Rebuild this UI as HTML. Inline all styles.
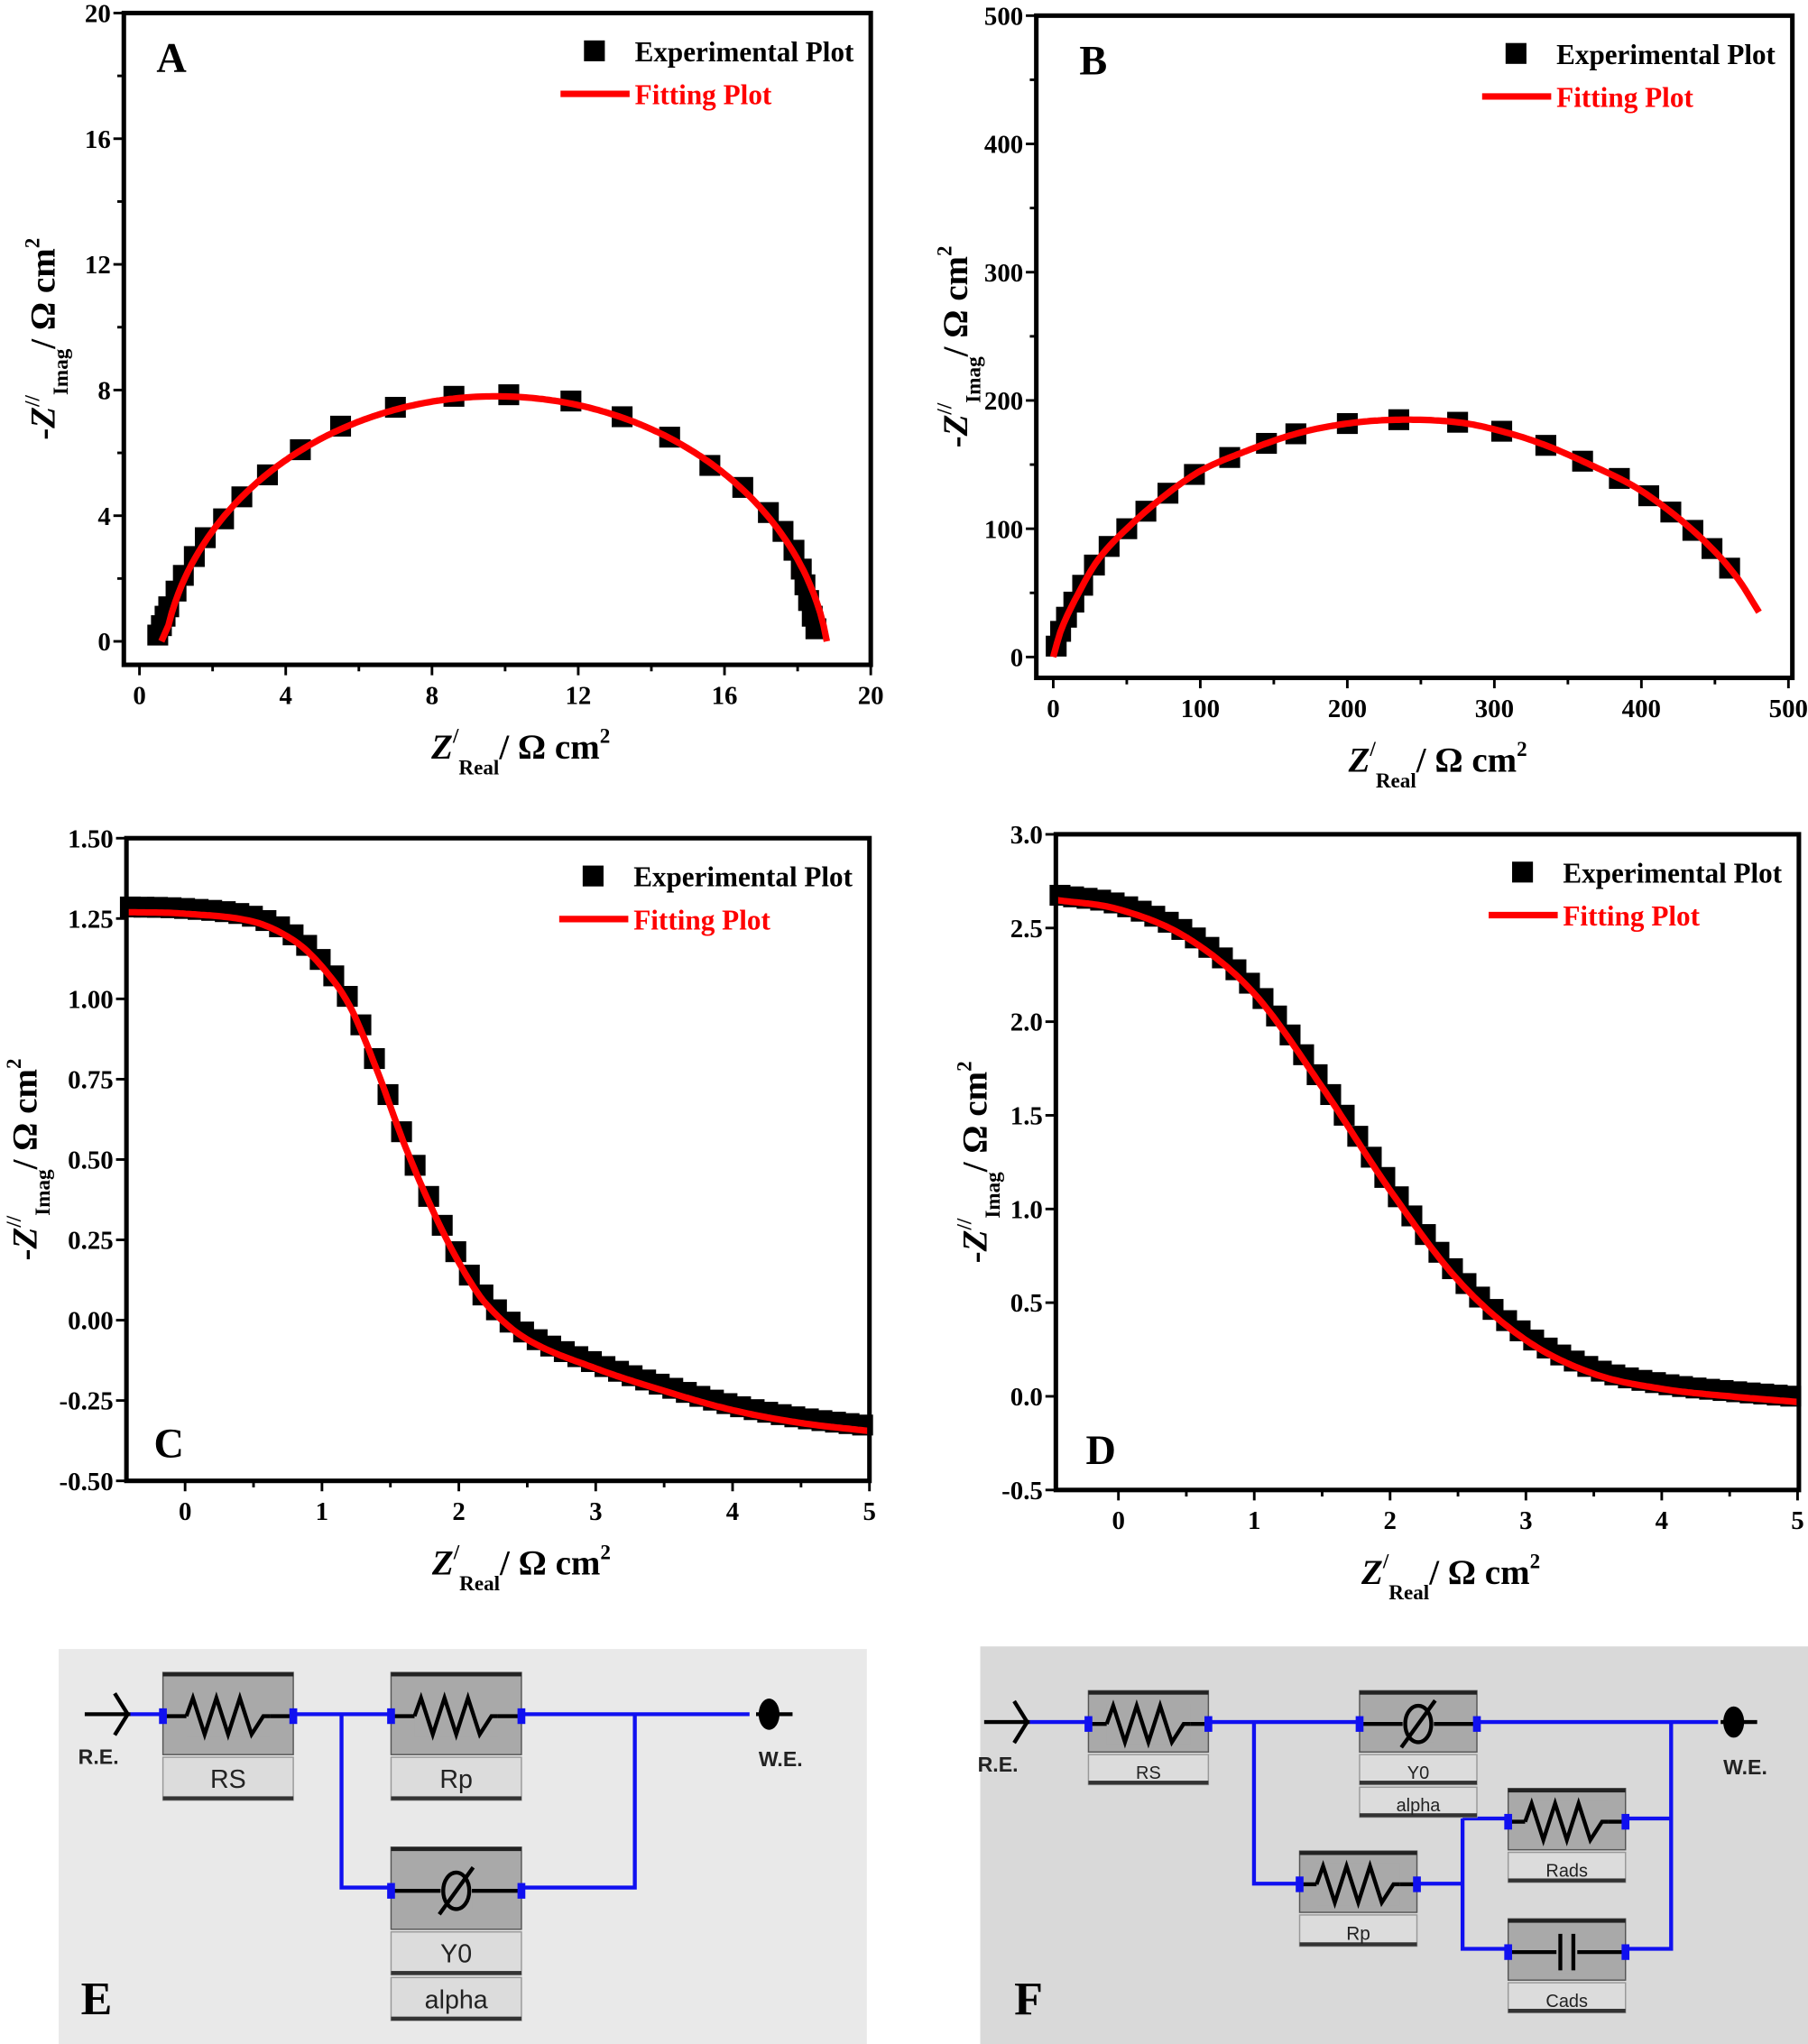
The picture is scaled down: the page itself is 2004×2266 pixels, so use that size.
<!DOCTYPE html>
<html><head><meta charset="utf-8"><style>html,body{margin:0;padding:0;background:#fff}svg{display:block}</style></head>
<body>
<svg id="s" xmlns="http://www.w3.org/2000/svg" width="2004" height="2266" viewBox="0 0 1387 1568" preserveAspectRatio="none" font-family="'Liberation Serif',serif" font-weight="bold"></svg>
<script>
const S=document.getElementById('s');let h='';
function cr(pts,x){
 let i=0;while(i<pts.length-2&&x>pts[i+1][0])i++;
 const p0=pts[Math.max(i-1,0)],p1=pts[i],p2=pts[i+1],p3=pts[Math.min(i+2,pts.length-1)];
 const t=(x-p1[0])/(p2[0]-p1[0]);
 const m1=(p2[1]-p0[1])/(p2[0]-p0[0])*(p2[0]-p1[0]),m2=(p3[1]-p1[1])/(p3[0]-p1[0])*(p2[0]-p1[0]);
 const t2=t*t,t3=t2*t;return (2*t3-3*t2+1)*p1[1]+(t3-2*t2+t)*m1+(-2*t3+3*t2)*p2[1]+(t3-t2)*m2;}
function panel(o){
 const X=v=>o.x0px+(v-o.xv0)*o.xs;
 const Y=v=>o.y0px-(v-o.yv0)*o.ys;
 o.xt.forEach(t=>{const x=X(t[0]);h+=`<line x1="${x}" y1="${o.by1}" x2="${x}" y2="${o.by1+8}" stroke="#000" stroke-width="2"/><text x="${x}" y="${o.by1+30}" font-size="20" text-anchor="middle">${t[1]}</text>`;});
 (o.xm||[]).forEach(t=>{const x=X(t);h+=`<line x1="${x}" y1="${o.by1}" x2="${x}" y2="${o.by1+5}" stroke="#000" stroke-width="2"/>`;});
 o.yt.forEach(t=>{const y=Y(t[0]);h+=`<line x1="${o.bx0}" y1="${y}" x2="${o.bx0-8}" y2="${y}" stroke="#000" stroke-width="2"/><text x="${o.bx0-10}" y="${y+7}" font-size="20" text-anchor="end">${t[1]}</text>`;});
 (o.ym||[]).forEach(t=>{const y=Y(t);h+=`<line x1="${o.bx0}" y1="${y}" x2="${o.bx0-5}" y2="${y}" stroke="#000" stroke-width="2"/>`;});
 o.mk.forEach(p=>{h+=`<rect x="${X(p[0])-8}" y="${Y(p[1])-8-(o.moff||0)}" width="16" height="16" fill="#000"/>`;});
 let d='';o.cv.forEach((p,i)=>{d+=(i?'L':'M')+X(p[0]).toFixed(1)+','+Y(p[1]).toFixed(1);});
 h+=`<path d="${d}" fill="none" stroke="#f00" stroke-width="5" stroke-linejoin="round"/>`;
 h+=`<rect x="${o.bx0}" y="${o.by0}" width="${o.bx1-o.bx0}" height="${o.by1-o.by0}" fill="none" stroke="#000" stroke-width="3.5"/>`;
 const ly=o.by0+30;
 h+=`<rect x="${o.bx1-220}" y="${ly-9}" width="16" height="16" fill="#000"/><text x="${o.bx1-181}" y="${ly+7}" font-size="22" textLength="168" lengthAdjust="spacingAndGlyphs">Experimental Plot</text>`;
 h+=`<line x1="${o.bx1-238}" y1="${ly+32}" x2="${o.bx1-185}" y2="${ly+32}" stroke="#f00" stroke-width="5"/><text x="${o.bx1-181}" y="${ly+40}" font-size="22" fill="#f00" textLength="105" lengthAdjust="spacingAndGlyphs">Fitting Plot</text>`;
 h+=`<text x="${o.lbx}" y="${o.lby}" font-size="32">${o.lb}</text>`;
 const cx=(o.bx0+o.bx1)/2+18;
 h+=`<text x="${cx}" y="${o.by1+72}" font-size="27" text-anchor="middle"><tspan font-style="italic">Z</tspan><tspan font-size="16" dy="-12">/</tspan><tspan font-size="16" dy="24">Real</tspan><tspan dy="-12">/ Ω cm</tspan><tspan font-size="16" dy="-12">2</tspan></text>`;
 const cy=(o.by0+o.by1)/2;
 h+=`<text transform="translate(${o.ylx},${cy}) rotate(-90)" font-size="27" text-anchor="middle">-<tspan font-style="italic">Z</tspan><tspan font-size="16" dy="-12">//</tspan><tspan font-size="16" dy="22">Imag</tspan><tspan dy="-10">/ Ω cm</tspan><tspan font-size="16" dy="-12">2</tspan></text>`;
}
function rng(a,b,n){const r=[];for(let i=0;i<=n;i++)r.push(a+(b-a)*i/n);return r;}
{const R=9.15,c=9.75,yc=-1.35;const cv=[];rng(0.7,18.8,200).forEach(x=>{const dx=x-c;cv.push([x,Math.max(0,Math.sqrt(Math.max(0,R*R-dx*dx))+yc)]);});
cv[0]=[0.6,0];
const mk=[[0.5,0.2],[0.6,0.5],[0.7,0.8],[0.8,1.1],[1.0,1.6],[1.2,2.1],[1.5,2.7],[1.8,3.3],[2.3,3.9],[2.8,4.6],[3.5,5.3],[4.4,6.1],[5.5,6.85],[7.0,7.45],[8.6,7.8],[10.1,7.85],[11.8,7.65],[13.2,7.15],[14.5,6.5],[15.6,5.6],[16.5,4.9],[17.2,4.1],[17.6,3.5],[17.9,2.9],[18.1,2.3],[18.2,1.8],[18.3,1.3],[18.4,0.8],[18.5,0.4]];
panel({bx0:95,bx1:668,by0:10,by1:510,x0px:107,xv0:0,xs:28.05,y0px:492,yv0:0,ys:24.1,
xt:[0,4,8,12,16,20].map(v=>[v,v]),xm:[2,6,10,14,18],yt:[0,4,8,12,16,20].map(v=>[v,v]),ym:[2,6,10,14,18],
mk,cv,lb:'A',lbx:120,lby:55,ylx:42});}
{const pts=[[0,0],[5,20],[15,45],[30,75],[50,100],[75,125],[100,145],[130,160],[165,174],[200,182],[235,185],[275,183],[305,176],[335,165],[365,150],[395,133],[420,113],[445,88],[465,62],[480,35]];
const cv=rng(0,480,200).map(x=>[x,cr(pts,x)]);
const mk=[2,5,9,14,20,28,38,50,63,78,96,120,145,165,200,235,275,305,335,360,385,405,420,435,448,460].map(x=>[x,cr(pts,x)]);
panel({bx0:795,bx1:1375,by0:12,by1:520,x0px:808,xv0:0,xs:1.128,y0px:504,yv0:0,ys:0.984,
xt:[0,100,200,300,400,500].map(v=>[v,v]),xm:[50,150,250,350,450],yt:[0,100,200,300,400,500].map(v=>[v,v]),ym:[50,150,250,350,450],
mk,cv,lb:'B',lbx:828,lby:57,ylx:742});}
{const pts=[[-0.43,1.27],[0,1.265],[0.5,1.24],[0.8,1.18],[1.0,1.10],[1.2,0.98],[1.4,0.78],[1.6,0.55],[1.8,0.35],[2.0,0.18],[2.2,0.05],[2.5,-0.06],[3.0,-0.15],[3.5,-0.22],[4.0,-0.28],[4.5,-0.32],[5,-0.345]];
const cv=rng(-0.43,5,250).map(x=>[x,cr(pts,x)]);
const mk=rng(-0.4,4.95,54).map(x=>[x,cr(pts,x)]);
panel({bx0:97,bx1:667,by0:643,by1:1136,x0px:142,xv0:0,xs:105,y0px:1136,yv0:-0.5,ys:246.5,moff:4,
xt:[0,1,2,3,4,5].map(v=>[v,v]),xm:[0.5,1.5,2.5,3.5,4.5],yt:[1.5,1.25,1,0.75,0.5,0.25,0,-0.25,-0.5].map(v=>[v,v.toFixed(2)]),
mk,cv,lb:'C',lbx:118,lby:1118,ylx:28});}
{const pts=[[-0.46,2.65],[0,2.6],[0.5,2.45],[1.0,2.15],[1.5,1.65],[2.0,1.1],[2.5,0.62],[3.0,0.3],[3.5,0.12],[4.0,0.04],[4.5,0.0],[5,-0.03]];
const cv=rng(-0.46,5,250).map(x=>[x,cr(pts,x)]);
const mk=rng(-0.43,4.95,54).map(x=>[x,cr(pts,x)]);
panel({bx0:810,bx1:1380,by0:640,by1:1143,x0px:858,xv0:0,xs:104.2,y0px:1143,yv0:-0.5,ys:143.7,moff:4,
xt:[0,1,2,3,4,5].map(v=>[v,v]),xm:[0.5,1.5,2.5,3.5,4.5],yt:[3,2.5,2,1.5,1,0.5,0,-0.5].map(v=>[v,v.toFixed(1)]),
mk,cv,lb:'D',lbx:833,lby:1123,ylx:757});}
const B='#1010f0';
function wire(d){h+=`<path d="${d}" fill="none" stroke="${B}" stroke-width="3"/>`;}
function comp(x,y,w,hh,sym,labels,lh){
 h+=`<rect x="${x}" y="${y}" width="${w}" height="${hh}" fill="#a9a9a9" stroke="#555" stroke-width="1"/><rect x="${x}" y="${y}" width="${w}" height="3" fill="#222"/>`;
 const cy=y+hh/2+2;
 h+=`<line x1="${x}" y1="${cy}" x2="${x+w}" y2="${cy}" stroke="#000" stroke-width="3"/>`;
 const m=x+w/2;
 if(sym=='R'){h+=`<rect x="${m-32}" y="${cy-16}" width="64" height="32" fill="#a9a9a9"/><path d="M${m-32},${cy} l5,-14 l9,28 l9,-28 l9,28 l9,-28 l9,28 l9,-14 l5,0" fill="none" stroke="#000" stroke-width="3"/>`;}
 if(sym=='Q'){h+=`<rect x="${m-12}" y="${cy-14}" width="24" height="28" fill="#a9a9a9"/><ellipse cx="${m}" cy="${cy}" rx="10" ry="14" fill="none" stroke="#000" stroke-width="3"/><line x1="${m-13}" y1="${cy+18}" x2="${m+13}" y2="${cy-18}" stroke="#000" stroke-width="3"/>`;}
 if(sym=='C'){h+=`<rect x="${m-8}" y="${cy-16}" width="16" height="32" fill="#a9a9a9"/><line x1="${m-5}" y1="${cy-14}" x2="${m-5}" y2="${cy+14}" stroke="#000" stroke-width="3"/><line x1="${m+5}" y1="${cy-14}" x2="${m+5}" y2="${cy+14}" stroke="#000" stroke-width="3"/>`;}
 h+=`<rect x="${x-3}" y="${cy-6}" width="6" height="12" fill="${B}"/><rect x="${x+w-3}" y="${cy-6}" width="6" height="12" fill="${B}"/>`;
 let yy=y+hh+2;labels.forEach(l=>{h+=`<rect x="${x}" y="${yy}" width="${w}" height="${lh}" fill="#dcdcdc" stroke="#999" stroke-width="1"/><rect x="${x}" y="${yy+lh-3}" width="${w}" height="3" fill="#333"/><text x="${x+w/2}" y="${yy+lh/2+7}" font-family="'Liberation Sans',sans-serif" font-weight="normal" font-size="${lh*0.6}" text-anchor="middle" fill="#222">${l}</text>`;yy+=lh+2;});
 return cy;}
function ends(rx,wx,y){
 h+=`<line x1="${rx-35}" y1="${y}" x2="${rx}" y2="${y}" stroke="#000" stroke-width="3"/><path d="M${rx-12},${y-16} L${rx-2},${y} L${rx-12},${y+16}" fill="none" stroke="#000" stroke-width="3"/>`;
 h+=`<line x1="${wx-10}" y1="${y}" x2="${wx+18}" y2="${y}" stroke="#000" stroke-width="3"/><ellipse cx="${wx}" cy="${y}" rx="8" ry="12" fill="#000"/>`;
 h+=`<text x="${rx-40}" y="${y+38}" font-family="'Liberation Sans',sans-serif" font-size="16" fill="#222">R.E.</text><text x="${wx-8}" y="${y+40}" font-family="'Liberation Sans',sans-serif" font-size="16" fill="#222">W.E.</text>`;}
h+=`<rect x="45" y="1265" width="620" height="303" fill="#e9e9e9"/>`;
wire('M100,1315 L575,1315 M262,1315 L262,1448 L300,1448 M400,1448 L487,1448 L487,1315');
ends(100,590,1315);
comp(125,1283,100,63,'R',['RS'],33);comp(300,1283,100,63,'R',['Rp'],33);comp(300,1417,100,63,'Q',['Y0','alpha'],33);
h+=`<text x="62" y="1545" font-size="36">E</text>`;
h+=`<rect x="752" y="1263" width="635" height="305" fill="#d9d9d9"/>`;
wire('M790,1321 L1318,1321 M962,1321 L962,1445 L997,1445 M1087,1445 L1122,1445 M1122,1395 L1122,1495 L1157,1495 M1122,1395 L1157,1395 M1247,1395 L1282,1395 M1247,1495 L1282,1495 L1282,1321');
ends(790,1330,1321);
comp(835,1297,92,47,'R',['RS'],23);comp(1043,1297,90,47,'Q',['Y0','alpha'],23);comp(997,1420,90,47,'R',['Rp'],24);
comp(1157,1372,90,47,'R',['Rads'],23);comp(1157,1472,90,47,'C',['Cads'],23);
h+=`<text x="778" y="1545" font-size="36">F</text>`;
S.innerHTML=h;
</script>
</body></html>
